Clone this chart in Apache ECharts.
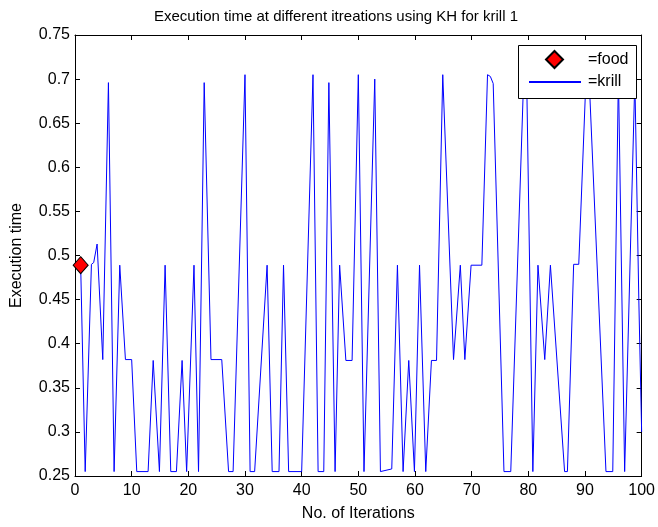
<!DOCTYPE html>
<html>
<head>
<meta charset="utf-8">
<script src="https://cdn.jsdelivr.net/npm/echarts@6/dist/echarts.min.js"></script>
<style>
html,body{margin:0;padding:0;background:#fff;}
#chart{width:658px;height:527px;}
</style>
</head>
<body>
<div id="chart"></div>
<script>
// Krill trajectory (iteration, execution time) vertices
const krillIter = [1.0,1.8,2.9,3.3,3.9,4.9,5.9,6.9,7.9,8.9,10.0,10.9,12.9,13.8,14.9,15.9,16.9,17.9,18.9,19.7,
  21.0,21.8,22.8,24.0,25.9,27.1,27.9,30.0,30.9,31.7,33.9,34.8,36.0,36.8,37.7,40.0,42.0,42.9,43.9,44.8,
  45.9,46.7,47.8,48.9,50.0,51.0,52.9,53.9,55.9,56.9,57.9,58.9,59.9,60.8,61.9,62.9,63.8,64.9,66.8,68.0,
  68.8,69.9,71.8,72.8,73.3,73.8,75.7,76.9,79.2,79.7,80.8,81.7,82.9,83.9,86.4,86.9,88.0,88.9,90.2,90.7,
  93.7,94.9,95.9,97.0,98.8,99.5,100.0];
const execTime = [0.489,0.255,0.490,0.492,0.513,0.382,0.696,0.255,0.489,0.382,0.382,0.255,0.255,0.381,0.255,0.489,0.255,0.255,0.381,0.255,
  0.489,0.255,0.696,0.382,0.382,0.255,0.255,0.705,0.255,0.255,0.489,0.255,0.255,0.489,0.255,0.255,0.705,0.255,0.255,0.696,
  0.255,0.489,0.381,0.381,0.705,0.255,0.700,0.255,0.258,0.489,0.255,0.381,0.255,0.489,0.255,0.381,0.381,0.705,0.382,0.489,
  0.382,0.489,0.489,0.705,0.703,0.695,0.255,0.255,0.705,0.705,0.255,0.489,0.382,0.489,0.255,0.255,0.490,0.490,0.705,0.705,
  0.255,0.255,0.705,0.255,0.700,0.450,0.300];
const foodIter = [1.0];
const foodTime = [0.489];
const xTicks = {min: 0, max: 100, interval: 10};
const yTicks = {min: 0.25, max: 0.75, interval: 0.05};

const krillData = krillIter.map((x, i) => [x, execTime[i]]);
const foodData = foodIter.map((x, i) => [x, foodTime[i]]);

const font = 'Liberation Sans, Arial, sans-serif';
const chart = echarts.init(document.getElementById('chart'), null, {renderer: 'canvas'});
const baseX = {
  type: 'value', min: xTicks.min, max: xTicks.max, interval: xTicks.interval,
  axisLine: {show: true, onZero: false, lineStyle: {color: '#000', width: 1}},
  axisTick: {show: true, inside: true, length: 5, lineStyle: {color: '#000'}},
  splitLine: {show: false}
};
const baseY = {
  type: 'value', min: yTicks.min, max: yTicks.max, interval: yTicks.interval,
  axisLine: {show: true, onZero: false, lineStyle: {color: '#000', width: 1}},
  axisTick: {show: true, inside: true, length: 5, lineStyle: {color: '#000'}},
  splitLine: {show: false}
};
const legendText = {fontFamily: font, fontSize: 16, color: '#000'};
chart.setOption({
  animation: false,
  backgroundColor: '#fff',
  title: {
    text: 'Execution time at different itreations using KH for krill 1',
    left: 331, top: 4, textAlign: 'center',
    textStyle: {fontFamily: font, fontSize: 15, fontWeight: 'normal', color: '#000'}
  },
  grid: {left: 75, right: 14, top: 35, bottom: 49, containLabel: false},
  graphic: [{
    type: 'rect', left: 518, top: 45, z: 3,
    shape: {width: 118, height: 53},
    style: {fill: '#fff', stroke: '#000', lineWidth: 1}
  }],
  legend: [
    {
      orient: 'vertical', left: 545, top: 50, z: 5, padding: 0,
      itemWidth: 17, itemHeight: 17,
      textStyle: Object.assign({padding: [0, 0, 0, 20]}, legendText),
      data: [{name: '=food', icon: 'diamond'}]
    },
    {
      orient: 'vertical', left: 528, top: 74, z: 5, padding: 0,
      itemWidth: 52, itemHeight: 18,
      textStyle: Object.assign({padding: [0, 0, 0, 2]}, legendText),
      data: [{name: '=krill', itemStyle: {color: 'rgba(0,0,0,0)', borderWidth: 0, opacity: 0}}]
    }
  ],
  xAxis: [
    Object.assign({}, baseX, {
      position: 'bottom',
      name: 'No. of Iterations', nameLocation: 'middle', nameGap: 30,
      nameTextStyle: {fontFamily: font, fontSize: 16, color: '#000'},
      axisLabel: {show: true, margin: 7, fontFamily: font, fontSize: 16, color: '#000'}
    }),
    Object.assign({}, baseX, {position: 'top', axisLabel: {show: false}})
  ],
  yAxis: [
    Object.assign({}, baseY, {
      position: 'left',
      name: 'Execution time', nameLocation: 'middle', nameGap: 50, nameRotate: 90,
      nameTextStyle: {fontFamily: font, fontSize: 16, color: '#000'},
      axisLabel: {show: true, margin: 5, fontFamily: font, fontSize: 16, color: '#000'}
    }),
    Object.assign({}, baseY, {position: 'right', axisLabel: {show: false}})
  ],
  series: [
    {
      name: '=krill', type: 'line', data: krillData, xAxisIndex: 0, yAxisIndex: 0,
      symbol: 'none', showSymbol: false,
      lineStyle: {color: '#0000ff', width: 1},
      itemStyle: {color: '#0000ff'}, z: 2
    },
    {
      name: '=food', type: 'scatter', data: foodData, xAxisIndex: 0, yAxisIndex: 0,
      symbol: 'diamond', symbolSize: [15, 17],
      itemStyle: {color: '#ff0000', borderColor: '#000', borderWidth: 1, opacity: 1}, z: 3
    }
  ]
});
</script>
</body>
</html>
